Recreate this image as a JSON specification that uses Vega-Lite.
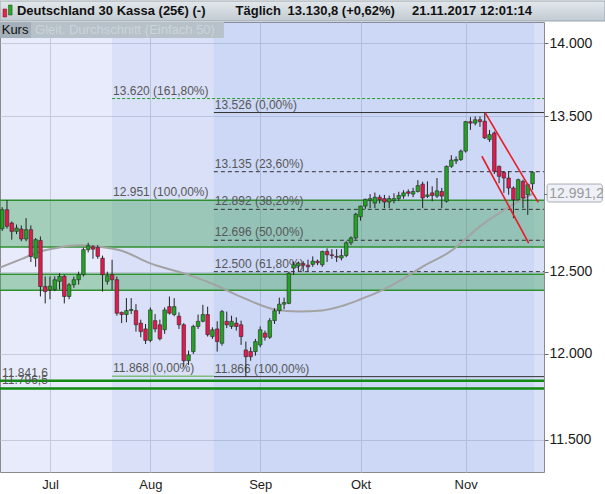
{
  "$schema": "https://vega.github.io/schema/vega-lite/v6.json",
  "padding": {"left": -5, "top": 0, "right": 0, "bottom": 0},
  "autosize": {"type": "pad"},
  "background": "#ffffff",
  "spacing": 1,
  "bounds": "flush",
  "align": "none",
  "config": {"font": "Liberation Sans"},
  "datasets": {
    "candles": [
      {"i":0,"o":12769,"h":12906,"l":12755,"c":12890},
      {"i":1,"o":12890,"h":12951,"l":12770,"c":12784},
      {"i":2,"o":12805,"h":12815,"l":12700,"c":12752},
      {"i":3,"o":12752,"h":12795,"l":12735,"c":12773},
      {"i":4,"o":12767,"h":12790,"l":12690,"c":12704},
      {"i":5,"o":12704,"h":12836,"l":12690,"c":12763},
      {"i":6,"o":12763,"h":12790,"l":12560,"c":12594},
      {"i":7,"o":12584,"h":12710,"l":12530,"c":12700},
      {"i":8,"o":12695,"h":12720,"l":12347,"c":12408},
      {"i":9,"o":12408,"h":12470,"l":12305,"c":12377},
      {"i":10,"o":12388,"h":12470,"l":12330,"c":12410},
      {"i":11,"o":12390,"h":12471,"l":12380,"c":12450},
      {"i":12,"o":12440,"h":12490,"l":12390,"c":12471},
      {"i":13,"o":12471,"h":12481,"l":12305,"c":12347},
      {"i":14,"o":12347,"h":12430,"l":12330,"c":12419},
      {"i":15,"o":12419,"h":12470,"l":12400,"c":12450},
      {"i":16,"o":12450,"h":12500,"l":12420,"c":12481},
      {"i":17,"o":12481,"h":12650,"l":12470,"c":12637},
      {"i":18,"o":12637,"h":12680,"l":12620,"c":12662},
      {"i":19,"o":12655,"h":12665,"l":12580,"c":12640},
      {"i":20,"o":12650,"h":12665,"l":12580,"c":12595},
      {"i":21,"o":12584,"h":12600,"l":12377,"c":12481},
      {"i":22,"o":12440,"h":12500,"l":12420,"c":12475},
      {"i":23,"o":12481,"h":12574,"l":12388,"c":12450},
      {"i":24,"o":12450,"h":12470,"l":12230,"c":12245},
      {"i":25,"o":12250,"h":12255,"l":12185,"c":12237},
      {"i":26,"o":12237,"h":12337,"l":12190,"c":12261},
      {"i":27,"o":12261,"h":12337,"l":12240,"c":12268},
      {"i":28,"o":12261,"h":12300,"l":12134,"c":12175},
      {"i":29,"o":12185,"h":12206,"l":12100,"c":12134},
      {"i":30,"o":12150,"h":12180,"l":12060,"c":12081},
      {"i":31,"o":12081,"h":12280,"l":12070,"c":12265},
      {"i":32,"o":12200,"h":12240,"l":12130,"c":12150},
      {"i":33,"o":12175,"h":12206,"l":12081,"c":12091},
      {"i":34,"o":12145,"h":12280,"l":12120,"c":12265},
      {"i":35,"o":12285,"h":12347,"l":12237,"c":12245},
      {"i":36,"o":12237,"h":12337,"l":12227,"c":12285},
      {"i":37,"o":12227,"h":12250,"l":12150,"c":12175},
      {"i":38,"o":12175,"h":12185,"l":11925,"c":11960},
      {"i":39,"o":11960,"h":12020,"l":11935,"c":11995},
      {"i":40,"o":12014,"h":12175,"l":12000,"c":12165},
      {"i":41,"o":12165,"h":12237,"l":12150,"c":12196},
      {"i":42,"o":12196,"h":12296,"l":12190,"c":12237},
      {"i":43,"o":12237,"h":12285,"l":12104,"c":12115},
      {"i":44,"o":12104,"h":12160,"l":12090,"c":12145},
      {"i":45,"o":12150,"h":12196,"l":12014,"c":12074},
      {"i":46,"o":12064,"h":12265,"l":12050,"c":12255},
      {"i":47,"o":12196,"h":12255,"l":12155,"c":12175},
      {"i":48,"o":12165,"h":12230,"l":12150,"c":12196},
      {"i":49,"o":12185,"h":12220,"l":12140,"c":12165},
      {"i":50,"o":12175,"h":12200,"l":12054,"c":12104},
      {"i":51,"o":12024,"h":12074,"l":11866,"c":11984},
      {"i":52,"o":12015,"h":12040,"l":11960,"c":11984},
      {"i":53,"o":12014,"h":12090,"l":11990,"c":12074},
      {"i":54,"o":12054,"h":12165,"l":12040,"c":12145},
      {"i":55,"o":12125,"h":12140,"l":12080,"c":12100},
      {"i":56,"o":12100,"h":12215,"l":12090,"c":12200},
      {"i":57,"o":12200,"h":12275,"l":12180,"c":12260},
      {"i":58,"o":12260,"h":12340,"l":12240,"c":12300},
      {"i":59,"o":12300,"h":12340,"l":12270,"c":12310},
      {"i":60,"o":12305,"h":12500,"l":12300,"c":12490},
      {"i":61,"o":12522,"h":12563,"l":12480,"c":12543},
      {"i":62,"o":12535,"h":12563,"l":12500,"c":12553},
      {"i":63,"o":12550,"h":12565,"l":12500,"c":12540},
      {"i":64,"o":12540,"h":12575,"l":12500,"c":12530},
      {"i":65,"o":12545,"h":12595,"l":12530,"c":12565},
      {"i":66,"o":12565,"h":12575,"l":12540,"c":12555},
      {"i":67,"o":12543,"h":12630,"l":12530,"c":12626},
      {"i":68,"o":12626,"h":12645,"l":12560,"c":12605},
      {"i":69,"o":12605,"h":12640,"l":12580,"c":12600},
      {"i":70,"o":12595,"h":12640,"l":12560,"c":12590},
      {"i":71,"o":12585,"h":12640,"l":12570,"c":12600},
      {"i":72,"o":12600,"h":12690,"l":12590,"c":12680},
      {"i":73,"o":12680,"h":12720,"l":12665,"c":12711},
      {"i":74,"o":12711,"h":12870,"l":12700,"c":12861},
      {"i":75,"o":12845,"h":12915,"l":12820,"c":12913},
      {"i":76,"o":12913,"h":12960,"l":12895,"c":12957},
      {"i":77,"o":12950,"h":12990,"l":12900,"c":12961},
      {"i":78,"o":12932,"h":13000,"l":12900,"c":12970},
      {"i":79,"o":12970,"h":12985,"l":12930,"c":12955},
      {"i":80,"o":12961,"h":12985,"l":12900,"c":12939},
      {"i":81,"o":12939,"h":12980,"l":12900,"c":12961},
      {"i":82,"o":12948,"h":12995,"l":12930,"c":12961},
      {"i":83,"o":12961,"h":13005,"l":12945,"c":12981},
      {"i":84,"o":12977,"h":13015,"l":12960,"c":12998},
      {"i":85,"o":13005,"h":13020,"l":12975,"c":12995},
      {"i":86,"o":12990,"h":13030,"l":12970,"c":13007},
      {"i":87,"o":13007,"h":13080,"l":13000,"c":13045},
      {"i":88,"o":13054,"h":13070,"l":12900,"c":12965},
      {"i":89,"o":12975,"h":13072,"l":12965,"c":12985},
      {"i":90,"o":12998,"h":13040,"l":12944,"c":12981},
      {"i":91,"o":12977,"h":13094,"l":12965,"c":13011},
      {"i":92,"o":13007,"h":13030,"l":12900,"c":12977},
      {"i":93,"o":12944,"h":13175,"l":12935,"c":13170},
      {"i":94,"o":13170,"h":13243,"l":13160,"c":13211},
      {"i":95,"o":13205,"h":13235,"l":13185,"c":13215},
      {"i":96,"o":13215,"h":13280,"l":13205,"c":13270},
      {"i":97,"o":13270,"h":13470,"l":13260,"c":13465},
      {"i":98,"o":13465,"h":13495,"l":13410,"c":13455},
      {"i":99,"o":13455,"h":13500,"l":13440,"c":13478},
      {"i":100,"o":13478,"h":13500,"l":13430,"c":13465},
      {"i":101,"o":13468,"h":13526,"l":13350,"c":13357},
      {"i":102,"o":13346,"h":13410,"l":13330,"c":13379},
      {"i":103,"o":13390,"h":13400,"l":13120,"c":13138},
      {"i":104,"o":13170,"h":13175,"l":13060,"c":13105},
      {"i":105,"o":13130,"h":13138,"l":12998,"c":13094},
      {"i":106,"o":13094,"h":13138,"l":12986,"c":13029},
      {"i":107,"o":13029,"h":13040,"l":12836,"c":12954},
      {"i":108,"o":12954,"h":13090,"l":12950,"c":13083},
      {"i":109,"o":13072,"h":13083,"l":12900,"c":12965},
      {"i":110,"o":12986,"h":13060,"l":12857,"c":13051},
      {"i":111,"o":13057,"h":13138,"l":13018,"c":13131}
    ],
    "sma": [
      {"i":-0.46,"v":12526},{"i":4,"v":12578},{"i":8,"v":12626},{"i":12,"v":12651},{"i":16,"v":12664},
      {"i":20,"v":12657},{"i":25,"v":12630},{"i":31,"v":12551},{"i":38,"v":12489},{"i":44,"v":12425},
      {"i":50,"v":12345},{"i":57,"v":12268},{"i":62,"v":12255},{"i":67,"v":12262},{"i":71,"v":12288},
      {"i":75,"v":12330},{"i":79,"v":12378},{"i":83,"v":12440},{"i":88,"v":12531},{"i":94,"v":12630},
      {"i":100,"v":12784},{"i":104,"v":12867},{"i":107,"v":12924},{"i":110,"v":12976},{"i":111,"v":12991}
    ],
    "regions": [{"s":23,"e":113.4},{"s":44.3,"e":111.3}],
    "bands": [{"lo":12653,"hi":12951},{"lo":12386,"hi":12484}],
    "bandedges": [{"v":12951},{"v":12653},{"v":12484},{"v":12386}],
    "support": [{"v":11841.6,"t":"11.841,6"},{"v":11796.5,"t":"11.796,5"}],
    "fib": [
      {"set":"fib1","lvl":161.8,"v":13620,"s":23,"e":113.4,"t":"13.620 (161,80%)"},
      {"set":"fib1","lvl":100,"v":12951,"s":23,"e":113.4,"t":"12.951 (100,00%)"},
      {"set":"fib1","lvl":0,"v":11868,"s":23,"e":44.3,"t":"11.868 (0,00%)"},
      {"set":"fib2","lvl":0,"v":13526,"s":44.3,"e":113.4,"t":"13.526 (0,00%)"},
      {"set":"fib2","lvl":23.6,"v":13135,"s":44.3,"e":113.4,"t":"13.135 (23,60%)"},
      {"set":"fib2","lvl":38.2,"v":12892,"s":44.3,"e":113.4,"t":"12.892 (38,20%)"},
      {"set":"fib2","lvl":50,"v":12696,"s":44.3,"e":113.4,"t":"12.696 (50,00%)"},
      {"set":"fib2","lvl":61.8,"v":12500,"s":44.3,"e":113.4,"t":"12.500 (61,80%)"},
      {"set":"fib2","lvl":100,"v":11866,"s":44.3,"e":113.4,"t":"11.866 (100,00%)"}
    ],
    "trend": [
      {"line":"upper","i":101.07,"v":13526},{"line":"upper","i":112.2,"v":12937},
      {"line":"lower","i":100.4,"v":13236},{"line":"lower","i":110.2,"v":12678}
    ],
    "lastsma": [{"v":12991.2,"t":"12.991,2"}]
  },
  "vconcat": [
    {
      "width": 605,
      "height": 20,
      "view": {"stroke": null},
      "data": {"values": [{"a":0,"b":1}]},
      "layer": [
        {
          "mark": {"type": "rect", "color": {"gradient": "linear", "x1": 0, "y1": 0, "x2": 0, "y2": 1, "stops": [{"offset": 0, "color": "#e3e8ec"}, {"offset": 1, "color": "#c2cbd2"}]}, "stroke": "#9aa5ad", "strokeWidth": 1},
          "encoding": {
            "x": {"field": "a", "type": "quantitative", "scale": {"domain": [0, 1], "padding": 0}, "axis": null},
            "x2": {"field": "b"}
          }
        },
        {
          "mark": {"type": "rect", "fill": "#e0264a", "stroke": "#7a1020", "strokeWidth": 0.5},
          "encoding": {
            "x": {"datum": 0.005, "type": "quantitative", "axis": null},
            "x2": {"datum": 0.011},
            "y": {"datum": 0.2, "type": "quantitative", "scale": {"domain": [0, 1]}, "axis": null},
            "y2": {"datum": 0.6}
          }
        },
        {
          "mark": {"type": "rect", "fill": "#2aa52a", "stroke": "#125012", "strokeWidth": 0.5},
          "encoding": {
            "x": {"datum": 0.014, "type": "quantitative", "axis": null},
            "x2": {"datum": 0.02},
            "y": {"datum": 0.3, "type": "quantitative", "axis": null},
            "y2": {"datum": 0.8}
          }
        },
        {
          "data": {"values": [{"t": "Deutschland 30 Kassa (25€) (-)"}]},
          "mark": {"type": "text", "align": "left", "baseline": "middle", "fontWeight": "bold", "fontSize": 13, "color": "#111111"},
          "encoding": {"x": {"datum": 0.028, "type": "quantitative", "axis": null}, "y": {"datum": 0.5, "type": "quantitative", "axis": null}, "text": {"field": "t"}}
        },
        {
          "data": {"values": [{"t": "Täglich"}]},
          "mark": {"type": "text", "align": "left", "baseline": "middle", "fontWeight": "bold", "fontSize": 13, "color": "#111111"},
          "encoding": {"x": {"datum": 0.3893, "type": "quantitative", "axis": null}, "y": {"datum": 0.5, "type": "quantitative", "axis": null}, "text": {"field": "t"}}
        },
        {
          "data": {"values": [{"t": "13.130,8 (+0,62%)"}]},
          "mark": {"type": "text", "align": "left", "baseline": "middle", "fontWeight": "bold", "fontSize": 13, "color": "#111111"},
          "encoding": {"x": {"datum": 0.4754, "type": "quantitative", "axis": null}, "y": {"datum": 0.5, "type": "quantitative", "axis": null}, "text": {"field": "t"}}
        },
        {
          "data": {"values": [{"t": "21.11.2017 12:01:14"}]},
          "mark": {"type": "text", "align": "left", "baseline": "middle", "fontWeight": "bold", "fontSize": 13, "color": "#111111"},
          "encoding": {"x": {"datum": 0.681, "type": "quantitative", "axis": null}, "y": {"datum": 0.5, "type": "quantitative", "axis": null}, "text": {"field": "t"}}
        }
      ]
    },
    {
      "width": 544,
      "height": 450,
      "view": {"fill": "#e7ebfb", "stroke": "#8a8a8a", "strokeWidth": 1},
      "layer": [
        {
          "data": {"name": "regions"},
          "mark": {"type": "rect", "fill": "#7d98e6", "opacity": 0.13},
          "encoding": {
            "x": {"field": "s", "type": "quantitative", "scale": {"domain": [-0.46, 113.4], "nice": false, "zero": false, "padding": 0},
              "axis": {"title": null, "values": [10, 31, 54, 75, 97], "labelExpr": "datum.value == 10 ? 'Jul' : datum.value == 31 ? 'Aug' : datum.value == 54 ? 'Sep' : datum.value == 75 ? 'Okt' : 'Nov'", "grid": true, "gridColor": "#c3cadc", "ticks": false, "domain": false, "labelFontSize": 13, "labelColor": "#222222", "labelPadding": 6, "labelFlush": false}},
            "x2": {"field": "e"}
          }
        },
        {
          "data": {"name": "bands"},
          "mark": {"type": "rect", "fill": "#3fa35a", "opacity": 0.4},
          "encoding": {
            "y": {"field": "lo", "type": "quantitative", "scale": {"type": "log", "domain": [11318, 14147], "nice": false, "zero": false, "padding": 0},
              "axis": {"title": null, "orient": "right", "values": [11500, 12000, 12500, 12991.2, 13500, 14000], "labelExpr": "datum.value == 12991.2 ? '' : replace(format(datum.value, ','), ',', '.')", "grid": true, "gridColor": {"condition": {"test": "datum.value == 12991.2", "value": "rgba(0,0,0,0)"}, "value": "#c5cbdd"}, "tickSize": 4, "tickColor": "#666666", "domain": false, "labelFontSize": 14, "labelColor": "#1a1a1a", "labelPadding": 1, "labelFlush": false, "labelOverlap": false}},
            "y2": {"field": "hi"}
          }
        },
        {
          "data": {"name": "bandedges"},
          "mark": {"type": "rule", "color": "#2f8f2f", "strokeWidth": 1.5},
          "encoding": {"y": {"field": "v", "type": "quantitative"}}
        },
        {
          "data": {"name": "support"},
          "mark": {"type": "rule", "color": "#118a11", "strokeWidth": 2.5},
          "encoding": {"y": {"field": "v", "type": "quantitative"}}
        },
        {
          "data": {"name": "fib"},
          "transform": [{"filter": "datum.set == 'fib2' && (datum.lvl == 0 || datum.lvl == 100)"}],
          "mark": {"type": "rule", "color": "#333333", "strokeWidth": 1},
          "encoding": {"x": {"field": "s", "type": "quantitative"}, "x2": {"field": "e"}, "y": {"field": "v", "type": "quantitative"}}
        },
        {
          "data": {"name": "fib"},
          "transform": [{"filter": "datum.set == 'fib2' && datum.lvl > 0 && datum.lvl < 100"}],
          "mark": {"type": "rule", "color": "#333333", "strokeWidth": 1, "strokeDash": [4, 3]},
          "encoding": {"x": {"field": "s", "type": "quantitative"}, "x2": {"field": "e"}, "y": {"field": "v", "type": "quantitative"}}
        },
        {
          "data": {"name": "fib"},
          "transform": [{"filter": "datum.set == 'fib1' && datum.lvl > 100"}],
          "mark": {"type": "rule", "color": "#2a9a2a", "strokeWidth": 1, "strokeDash": [3, 2]},
          "encoding": {"x": {"field": "s", "type": "quantitative"}, "x2": {"field": "e"}, "y": {"field": "v", "type": "quantitative"}}
        },
        {
          "data": {"name": "fib"},
          "transform": [{"filter": "datum.set == 'fib1' && datum.lvl == 0"}],
          "mark": {"type": "rule", "color": "#7cc07c", "strokeWidth": 1.5},
          "encoding": {"x": {"field": "s", "type": "quantitative"}, "x2": {"field": "e"}, "y": {"field": "v", "type": "quantitative"}}
        },
        {
          "data": {"name": "fib"},
          "mark": {"type": "text", "align": "left", "baseline": "bottom", "dx": 1, "dy": -1, "fontSize": 12, "color": "#575757"},
          "encoding": {"x": {"field": "s", "type": "quantitative"}, "y": {"field": "v", "type": "quantitative"}, "text": {"field": "t"}}
        },
        {
          "data": {"name": "support"},
          "mark": {"type": "text", "align": "left", "baseline": "bottom", "dx": 2, "dy": -1, "fontSize": 12, "color": "#575757"},
          "encoding": {"x": {"datum": -0.46, "type": "quantitative"}, "y": {"field": "v", "type": "quantitative"}, "text": {"field": "t"}}
        },
        {
          "data": {"name": "sma"},
          "mark": {"type": "line", "color": "#a3a3a3", "strokeWidth": 2, "interpolate": "monotone"},
          "encoding": {"x": {"field": "i", "type": "quantitative"}, "y": {"field": "v", "type": "quantitative"}}
        },
        {
          "data": {"name": "candles"},
          "mark": {"type": "rule", "color": "#222222", "strokeWidth": 1},
          "encoding": {"x": {"field": "i", "type": "quantitative"}, "y": {"field": "l", "type": "quantitative"}, "y2": {"field": "h"}}
        },
        {
          "data": {"name": "candles"},
          "mark": {"type": "bar", "width": 3.6, "stroke": "#2a2a2a", "strokeWidth": 0.6},
          "encoding": {
            "x": {"field": "i", "type": "quantitative"},
            "y": {"field": "o", "type": "quantitative"},
            "y2": {"field": "c"},
            "fill": {"condition": {"test": "datum.c >= datum.o", "value": "#22a322"}, "value": "#e3184d"}
          }
        },
        {
          "data": {"name": "trend"},
          "mark": {"type": "line", "color": "#e81c24", "strokeWidth": 1.6},
          "encoding": {"x": {"field": "i", "type": "quantitative"}, "y": {"field": "v", "type": "quantitative"}, "detail": {"field": "line"}}
        },
        {
          "data": {"values": [{"t": "Kurs"}]},
          "mark": {"type": "rect", "fill": "#a4b0b9"},
          "encoding": {"x": {"datum": -0.46, "type": "quantitative"}, "x2": {"datum": 6.03}, "y": {"datum": 14147, "type": "quantitative"}, "y2": {"datum": 14035}}
        },
        {
          "data": {"values": [{"t": "Gleit. Durchschnitt (Einfach 50)"}]},
          "mark": {"type": "rect", "fill": "#b6c1c9"},
          "encoding": {"x": {"datum": 6.03, "type": "quantitative"}, "x2": {"datum": 46.4}, "y": {"datum": 14147, "type": "quantitative"}, "y2": {"datum": 14035}}
        },
        {
          "data": {"values": [{"t": "Kurs"}]},
          "mark": {"type": "text", "align": "left", "baseline": "middle", "fontSize": 13, "color": "#111111"},
          "encoding": {"x": {"datum": -0.1, "type": "quantitative"}, "y": {"datum": 14090, "type": "quantitative"}, "text": {"field": "t"}}
        },
        {
          "data": {"values": [{"t": "Gleit. Durchschnitt (Einfach 50)"}]},
          "mark": {"type": "text", "align": "left", "baseline": "middle", "fontSize": 13, "color": "#ccd4da"},
          "encoding": {"x": {"datum": 6.87, "type": "quantitative"}, "y": {"datum": 14090, "type": "quantitative"}, "text": {"field": "t"}}
        },
        {
          "data": {"name": "lastsma"},
          "mark": {"type": "rect", "fill": "#eef1f8", "stroke": "#a9adb5", "strokeWidth": 1, "cornerRadius": 2},
          "encoding": {"x": {"datum": 114.05, "type": "quantitative"}, "x2": {"datum": 125.6}, "y": {"datum": 13055, "type": "quantitative"}, "y2": {"datum": 12939}}
        },
        {
          "data": {"name": "lastsma"},
          "mark": {"type": "text", "align": "left", "baseline": "middle", "fontSize": 14, "color": "#9a9a9a"},
          "encoding": {"x": {"datum": 114.5, "type": "quantitative"}, "y": {"field": "v", "type": "quantitative"}, "text": {"field": "t"}}
        }
      ]
    }
  ]
}
